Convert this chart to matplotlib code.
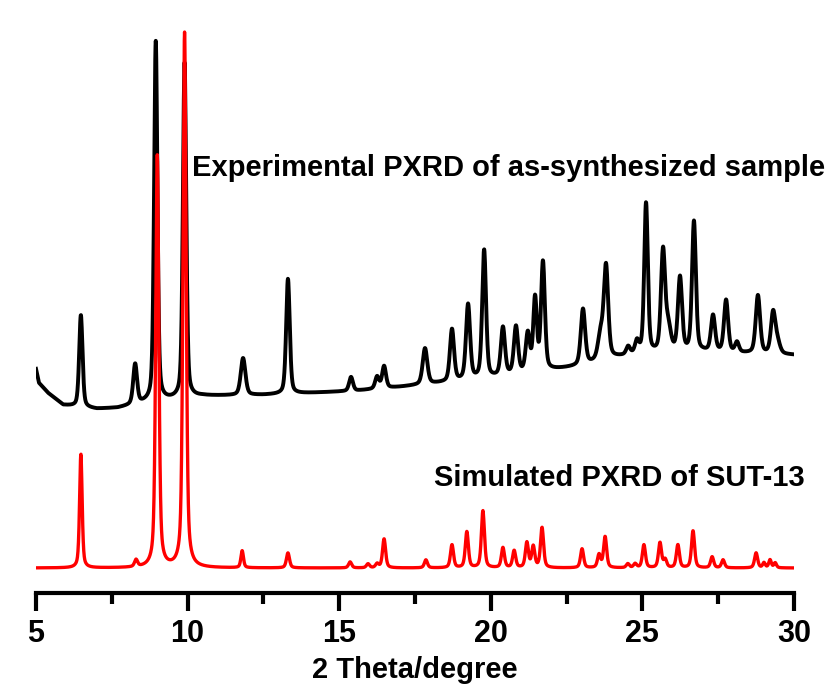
import numpy as np
import matplotlib
matplotlib.use("Agg")
import matplotlib.pyplot as plt
from matplotlib.ticker import MultipleLocator

plt.rcParams['font.family'] = ['Liberation Sans', 'DejaVu Sans']
plt.rcParams['font.weight'] = 'bold'

# ---------------- data ----------------
# Simulated pattern: peak positions (deg 2theta), heights (a.u.), FWHM (deg)
sim_pos = [6.48, 8.30, 9.00, 9.90, 11.80, 13.31, 15.36, 15.95, 16.25, 16.48,
           17.86, 18.72, 19.21, 19.74, 20.40, 20.77, 21.19, 21.40, 21.69,
           23.01, 23.57, 23.77, 24.52, 24.76, 25.05, 25.58, 25.75, 26.17,
           26.67, 27.30, 27.66, 28.75, 29.01, 29.21, 29.38]
sim_height = [114, 7, 412, 535, 17, 15, 6, 4, 4, 29,
              8, 23, 36, 57, 20, 17, 25, 21, 40,
              19, 13, 31, 4, 4, 23, 25, 8, 23,
              37, 11, 8, 15, 5, 8, 5]
sim_fwhm = [0.10, 0.12, 0.12, 0.12, 0.10, 0.12, 0.12, 0.12, 0.12, 0.12,
            0.12, 0.12, 0.12, 0.12, 0.12, 0.12, 0.12, 0.12, 0.12,
            0.12, 0.12, 0.12, 0.12, 0.12, 0.12, 0.12, 0.12, 0.12,
            0.12, 0.12, 0.12, 0.12, 0.10, 0.10, 0.10]
sim_offset = 25

# Experimental pattern: peak positions, heights, FWHM
exp_pos = [6.48, 8.27, 8.95, 9.90, 11.83, 13.31, 15.39, 16.25, 16.48, 17.83,
           18.72, 19.25, 19.78, 20.40, 20.83, 21.22, 21.46, 21.72,
           23.04, 23.62, 23.80, 24.53, 24.82, 25.12, 25.68, 25.85, 26.24,
           26.70, 27.33, 27.76, 28.12, 28.81, 29.31, 29.45]
exp_height = [92, 40, 360, 335, 37, 115, 14, 12, 22, 36,
              52, 75, 128, 48, 47, 38, 72, 108,
              56, 25, 92, 8, 12, 150, 100, 25, 74,
              130, 36, 52, 10, 58, 40, 12]
exp_fwhm = [0.13, 0.15, 0.13, 0.13, 0.18, 0.14, 0.15, 0.15, 0.15, 0.18,
            0.16, 0.16, 0.15, 0.16, 0.16, 0.16, 0.14, 0.15,
            0.17, 0.2, 0.17, 0.15, 0.15, 0.14, 0.16, 0.2, 0.16,
            0.15, 0.16, 0.16, 0.15, 0.17, 0.17, 0.2]
# Experimental background (deg, a.u.)
bg_x = [5.0, 5.1, 5.4, 5.9, 7.0, 7.7, 8.6, 10.5, 12.5, 14.0, 15.5, 17.0,
        18.0, 19.0, 20.0, 21.0, 22.0, 23.0, 24.0, 25.0, 27.0, 30.0]
bg_y = [224, 210, 200, 188, 184, 185, 190, 197, 198, 200, 202, 206,
        209, 212, 215, 219, 223, 227, 235, 239, 241, 238]

x_ticks = [5, 10, 15, 20, 25, 30]
x_label = "2 Theta/degree"
label_exp = "Experimental PXRD of as-synthesized sample"
label_sim = "Simulated PXRD of SUT-13"


def profile(x, pos, hgt, fw, eta=0.5):
    y = np.zeros_like(x)
    for p, h, w in zip(pos, hgt, fw):
        hw = w / 2.0
        lor = 1.0 / (1.0 + ((x - p) / hw) ** 2)
        gau = np.exp(-np.log(2) * ((x - p) / hw) ** 2)
        y += h * (eta * lor + (1 - eta) * gau)
    return y


x = np.linspace(5, 30, 3001)
y_sim = sim_offset + profile(x, sim_pos, sim_height, sim_fwhm)
y_exp = np.interp(x, bg_x, bg_y) + profile(x, exp_pos, exp_height, exp_fwhm, eta=0.4)

fig = plt.figure(figsize=(8.34, 6.84), dpi=100)
ax = fig.add_axes([36 / 834, 91 / 684, 758 / 834, 593 / 684])

ax.plot(x, y_exp, color='black', lw=2.8, zorder=2)
ax.plot(x, y_sim, color='#ff0000', lw=2.4, zorder=3)

ax.set_xlim(5, 30)
ax.set_ylim(0, 593)
for s in ['left', 'right', 'top']:
    ax.spines[s].set_visible(False)
ax.spines['bottom'].set_linewidth(3)
ax.set_yticks([])
ax.set_xticks(x_ticks)
ax.xaxis.set_minor_locator(MultipleLocator(2.5))
ax.tick_params(axis='x', which='major', direction='out', length=13, width=3,
               labelsize=22, pad=6)
ax.tick_params(axis='x', which='minor', direction='out', length=8, width=3)
for lab in ax.get_xticklabels():
    lab.set_fontweight('bold')
ax.set_xlabel(x_label, fontsize=21, fontweight='bold', labelpad=5)

ax.text(10.15, 425, label_exp, fontsize=21, fontweight='bold', va='center', ha='left')
ax.text(18.13, 115, label_sim, fontsize=21, fontweight='bold', va='center', ha='left')

fig.savefig('out.png', dpi=100)
